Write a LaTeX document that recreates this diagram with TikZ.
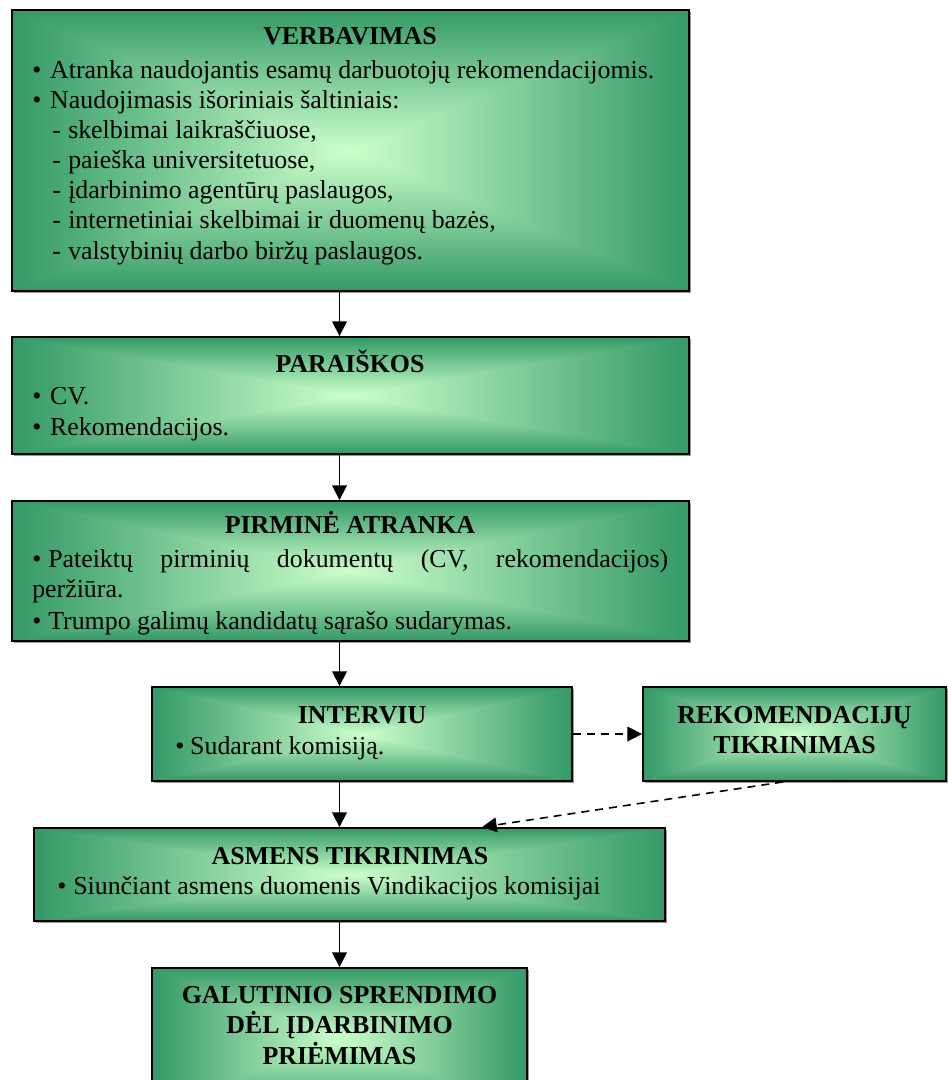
\documentclass[tikz,border=0pt]{standalone}
\usepackage{fontspec}
\setmainfont{Liberation Serif}
\usetikzlibrary{arrows.meta,fit,shadows}

% light centre fading to sea green at the edges, with rectangular contours;
% TikZ fits the middle 50bp square of a shading to the path
\pgfdeclarefunctionalshading{glow}{\pgfpoint{-50bp}{-50bp}}{\pgfpoint{50bp}{50bp}}{}{
  abs exch abs 2 copy lt {exch} if pop 25 div dup 1 gt {pop 1} if
  dup -0.6 mul 0.8 add exch
  dup -0.4 mul 1 add exch
  -0.4 mul 0.8 add
}

\newcommand\bodysize{\fontsize{19.4pt}{22pt}\selectfont}
\newcommand\bul[1]{\makebox[#1][l]{•}}

\tikzset{
  box/.style={draw=black, line width=1.4pt, shading=glow, inner sep=0pt,
    general shadow={fill=black!40, shadow xshift=1.3pt, shadow yshift=-1.3pt}},
  hd/.style={font=\bodysize\bfseries, anchor=base, inner sep=0pt},
  tx/.style={font=\bodysize, anchor=base west, inner sep=0pt},
  flow/.style={-{Triangle[length=11pt,width=11pt]}, line width=1.2pt},
  dflow/.style={flow, dash pattern=on 6pt off 4.5pt},
}

\begin{document}
\begin{tikzpicture}[x=0.75pt, y=-0.75pt]
\path[use as bounding box] (0,0) rectangle (948,1080);
\clip (0,0) rectangle (948,1080);

% boxes
\node[box, fit={(12,10) (689,291)}]   (verb) {};
\node[box, fit={(12,337) (689,454)}]  (par)  {};
\node[box, fit={(12,501) (689,641)}]  (pirm) {};
\node[box, fit={(152,687) (572,781)}] (intv) {};
\node[box, fit={(643,687) (946,781)}] (rek)  {};
\node[box, fit={(34,828) (665,921)}]  (asm)  {};
\node[box, fit={(152,968) (527,1110)}] (fin) {};

% VERBAVIMAS
\node[hd] (verbh) at (350,45) {VERBAVIMAS};
\node[tx] (v1) at (32,79)  {\bul{13.5pt}Atranka naudojantis esamų darbuotojų rekomendacijomis.};
\node[tx] (v2) at (32,109) {\bul{13.5pt}Naudojimasis išoriniais šaltiniais:};
\node[tx] (v3) at (52,139) {\makebox[12pt][l]{-}skelbimai laikraščiuose,};
\node[tx] (v4) at (52,169) {\makebox[12pt][l]{-}paieška universitetuose,};
\node[tx] (v5) at (52,199) {\makebox[12pt][l]{-}įdarbinimo agentūrų paslaugos,};
\node[tx] (v6) at (52,229) {\makebox[12pt][l]{-}internetiniai skelbimai ir duomenų bazės,};
\node[tx] (v7) at (52,260) {\makebox[12pt][l]{-}valstybinių darbo biržų paslaugos.};

% PARAIŠKOS
\node[hd] (parh) at (350,372) {PARAIŠKOS};
\node[tx] (p1) at (32,404) {\bul{13.5pt}CV.};
\node[tx] (p2) at (32,435) {\bul{13.5pt}Rekomendacijos.};

% PIRMINĖ ATRANKA
\node[hd] (pirmh) at (350,533) {PIRMINĖ ATRANKA};
\node[tx] (a1) at (32,567) {\bul{12pt}\makebox[465pt][s]{Pateiktų pirminių dokumentų (CV, rekomendacijos)}};
\node[tx] (a2) at (32,597) {peržiūra.};
\node[tx] (a3) at (32,629) {\bul{12pt}Trumpo galimų kandidatų sąrašo sudarymas.};

% INTERVIU
\node[hd] (intvh) at (362,723) {INTERVIU};
\node[tx] (i1) at (175,754) {\bul{11.25pt}Sudarant komisiją.};

% REKOMENDACIJŲ TIKRINIMAS
\node[hd] (rek1) at (794.5,723) {REKOMENDACIJŲ};
\node[hd] (rek2) at (794.5,753) {TIKRINIMAS};

% ASMENS TIKRINIMAS
\node[hd] (asmh) at (350,864) {ASMENS TIKRINIMAS};
\node[tx] (s1) at (57,894) {\bul{12pt}Siunčiant asmens duomenis Vindikacijos komisijai};

% GALUTINIO SPRENDIMO ...
\node[hd] (fin1) at (339.5,1003) {GALUTINIO SPRENDIMO};
\node[hd] (fin2) at (339.5,1033) {DĖL ĮDARBINIMO};
\node[hd] (fin3) at (339.5,1064) {PRIĖMIMAS};

% connectors
\draw[flow] (verb.south -| fin.north) -- (par.north -| fin.north);
\draw[flow] (par.south -| fin.north) -- (pirm.north -| fin.north);
\draw[flow] (pirm.south -| fin.north) -- (intv.north -| fin.north);
\draw[flow] (intv.south -| fin.north) -- (asm.north -| fin.north);
\draw[flow] (asm.south -| fin.north) -- (fin.north);
\draw[dflow] (intv.east) -- (rek.west);
\draw[dflow] ([xshift=-8.6pt]rek.south) -- ([xshift=99.4pt]asm.north);
\end{tikzpicture}
\end{document}
